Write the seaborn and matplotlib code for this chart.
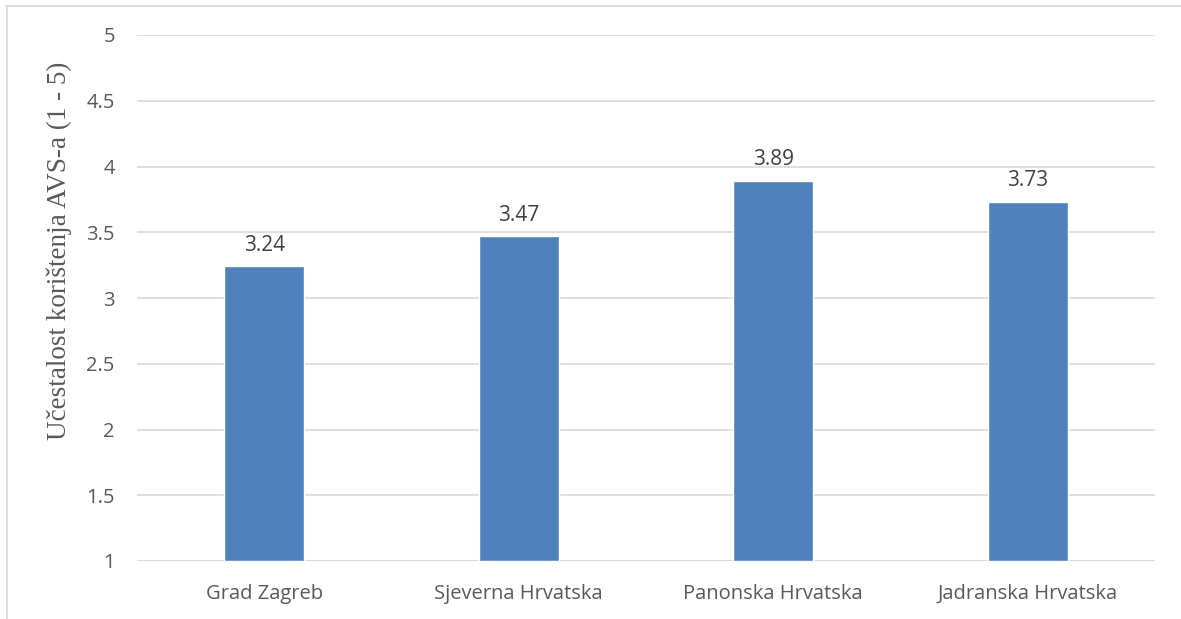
import numpy as np
import pandas as pd
import matplotlib
matplotlib.use('Agg')
import matplotlib.pyplot as plt
from matplotlib.lines import Line2D
import seaborn as sns

regions = ['Grad Zagreb', 'Sjeverna Hrvatska', 'Panonska Hrvatska', 'Jadranska Hrvatska']
means = [3.24, 3.47, 3.89, 3.73]
yticks = [1, 1.5, 2, 2.5, 3, 3.5, 4, 4.5, 5]
ytick_labels = ['1', '1.5', '2', '2.5', '3', '3.5', '4', '4.5', '5']

sns.set_theme(style='white')
plt.rcParams['font.family'] = ['Open Sans', 'DejaVu Sans']

df = pd.DataFrame({'region': regions, 'mean': means})
base = 1.0

fig = plt.figure(figsize=(11.81, 6.19), dpi=100)
ax = fig.add_axes([137/1181, 1-561/619, (1155-137)/1181, (561-35)/619])

# bars start from 1 (axis minimum)
sns.barplot(data=df, x='region', y=df['mean'] - base, bottom=base, color='#4F81BD',
            saturation=1, width=0.314, ax=ax, zorder=3)

ax.set_ylim(1, 5)
ax.set_xlim(-0.5, 3.5)
ax.set_yticks(yticks)
ax.set_yticklabels(ytick_labels)
ax.yaxis.grid(True, color='#D9D9D9', linewidth=1.2, zorder=0)
ax.set_axisbelow(True)
for s in ax.spines.values():
    s.set_visible(False)
ax.axhline(1, color='#D9D9D9', linewidth=1.2, zorder=1)
ax.tick_params(axis='both', length=0, labelsize=14.5, labelcolor='#595959')
ax.tick_params(axis='y', pad=16)
ax.tick_params(axis='x', pad=16.5)
ax.set_xlabel('')
ax.set_ylabel('Učestalost korištenja AVS-a (1 - 5)', family=['Liberation Serif', 'DejaVu Serif'],
              fontsize=19.5, color='#595959')
ax.yaxis.set_label_coords(-0.064, 0.59)

for i, v in enumerate(means):
    ax.text(i, v + 0.08, f'{v:.2f}', ha='center', va='bottom', fontsize=15, color='#404040')

# chart frame
fig.add_artist(Line2D([6/1181, 1], [1-5.5/619, 1-5.5/619], color='#D9D9D9', linewidth=1.2))
fig.add_artist(Line2D([6.5/1181, 6.5/1181], [0, 1-5.5/619], color='#D9D9D9', linewidth=1.2))

fig.savefig('out.png', dpi=100, facecolor='white')
